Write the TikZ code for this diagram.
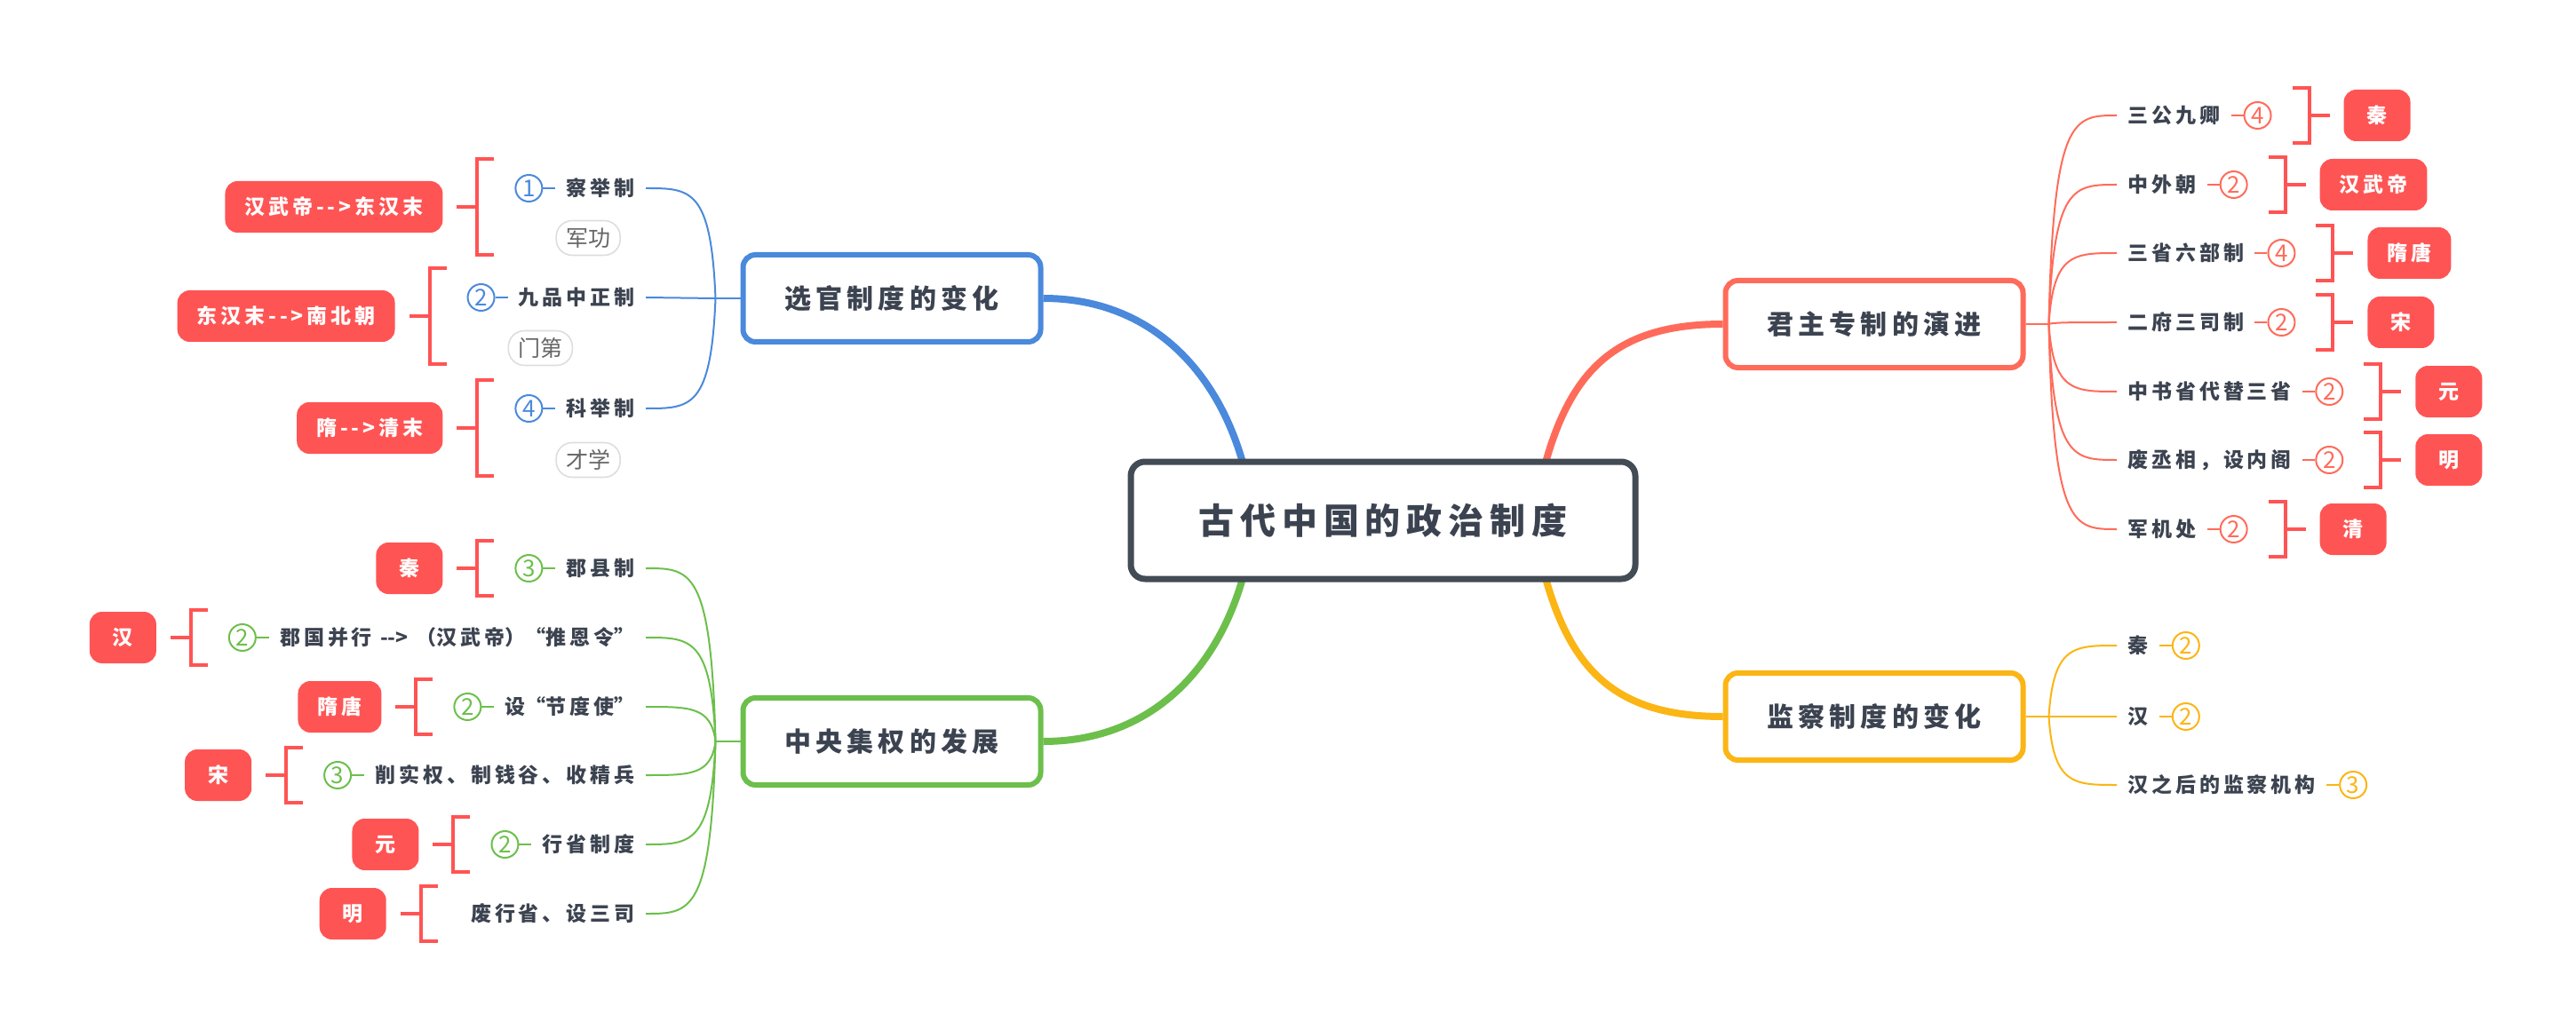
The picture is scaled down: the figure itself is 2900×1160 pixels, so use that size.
\documentclass[tikz,border=0pt]{standalone}
\usepackage{fontspec}
\newfontfamily\cjk[LetterSpace=17]{Noto Sans CJK SC}
\newfontfamily\cjkplain{Noto Sans CJK SC}
\usetikzlibrary{positioning,calc,backgrounds}

\definecolor{ink}{HTML}{3C4350}
\definecolor{rootc}{HTML}{434B55}
\definecolor{bluec}{HTML}{4A89DC}
\definecolor{greenc}{HTML}{6CBF4B}
\definecolor{redc}{HTML}{FF6B5A}
\definecolor{yellowc}{HTML}{FBB514}
\definecolor{erac}{HTML}{FF5454}
\definecolor{hintc}{HTML}{DDDDDD}
\definecolor{hinttext}{HTML}{666666}

\begin{document}
\begin{tikzpicture}[x=0.5pt, y=-0.5pt,
	rootbox/.style={draw=rootc, line width=3.5pt, fill=white, rounded corners=8pt, minimum width=284pt, minimum height=66pt, text=ink, font=\cjk\bfseries\fontsize{20}{24}\selectfont},
	topicbox/.style={draw=#1, line width=3pt, fill=white, rounded corners=7pt, minimum width=167.5pt, minimum height=49pt, text=ink, font=\cjk\bfseries\fontsize{15}{18}\selectfont},
	leaf/.style={text=ink, inner sep=6pt, font=\cjk\bfseries\fontsize{11.5}{14}\selectfont},
	numc/.style={circle, draw=#1, text=#1, line width=1pt, minimum size=15pt, inner sep=0pt, font=\cjkplain\fontsize{13}{13}\selectfont},
	hintbox/.style={draw=hintc, line width=0.8pt, rounded corners=9pt, minimum height=19.5pt, inner xsep=5.5pt, text=hinttext, font=\cjkplain\fontsize{12.5}{14}\selectfont},
	erabox/.style={fill=erac, rounded corners=7pt, text=white, minimum width=37.5pt, minimum height=29pt, inner xsep=11pt, outer sep=8pt, font=\cjk\bfseries\fontsize{11.5}{14}\selectfont},
	bracket/.style={draw=erac, line width=2pt},
	limb/.style={draw=#1, line width=4pt},
	twig/.style={draw=#1, line width=1pt},
	]

	\useasboundingbox (0,0) rectangle (2900,1160);

	% centre and main topics
	\node[rootbox] (root) at (1557,586) {古代中国的政治制度};
	\node[topicbox=bluec] (sel) at (1004,336) {选官制度的变化};
	\node[topicbox=greenc] (cen) at (1004,835) {中央集权的发展};
	\node[topicbox=redc] (jun) at (2110,365) {君主专制的演进};
	\node[topicbox=yellowc] (jian) at (2110,807) {监察制度的变化};

	% fork points
	\coordinate (sf) at ($(sel.west)+(-28,0)$);
	\coordinate (cf) at ($(cen.west)+(-28,0)$);
	\coordinate (jf) at ($(jun.east)+(26,0)$);
	\coordinate (kf) at ($(jian.east)+(26,0)$);

	% ---- 选官制度的变化 ----
	\node[leaf, anchor=east] (xg1) at (727,212) {察举制};
	\node[numc=bluec, left=7pt of xg1] (xn1) {1};
	\node[hintbox, anchor=west] (xh1) at ($(xg1.west)+(0,56)$) {军功};
	\coordinate (xb1) at ($(xn1.west)+(-42,21)$);
	\node[erabox, left=11.5pt of xb1] (xe1) {汉武帝-{}-{}>东汉末};

	\node[leaf, anchor=east] (xg2) at (727,335) {九品中正制};
	\node[numc=bluec, left=7pt of xg2] (xn2) {2};
	\node[hintbox, anchor=west] (xh2) at ($(xg2.west)+(0,57)$) {门第};
	\coordinate (xb2) at ($(xn2.west)+(-42,21)$);
	\node[erabox, left=11.5pt of xb2] (xe2) {东汉末-{}-{}>南北朝};

	\node[leaf, anchor=east] (xg3) at (727,460) {科举制};
	\node[numc=bluec, left=7pt of xg3] (xn3) {4};
	\node[hintbox, anchor=west] (xh3) at ($(xg3.west)+(0,58)$) {才学};
	\coordinate (xb3) at ($(xn3.west)+(-42,22)$);
	\node[erabox, left=11.5pt of xb3] (xe3) {隋-{}-{}>清末};

	\draw[twig=bluec] (sel.west) -- (sf);
	\draw[twig=bluec] (sf) .. controls ($(sf|-xg1)+(-5,0)$) and ($(sf|-xg1)+(-28,0)$) .. (xg1.east);
	\draw[twig=bluec] (sf) -- (xg2.east);
	\draw[twig=bluec] (sf) .. controls ($(sf|-xg3)+(-5,0)$) and ($(sf|-xg3)+(-28,0)$) .. (xg3.east);
	\draw[twig=bluec] (xn1) -- (xg1);
	\draw[twig=bluec] (xn2) -- (xg2);
	\draw[twig=bluec] (xn3) -- (xg3);

	\draw[bracket] ($(xb1)+(19,-54)$) -- ++(-19,0) -- ++(0,108) -- ++(19,0);
	\draw[bracket] ($(xb2)+(19,-54)$) -- ++(-19,0) -- ++(0,108) -- ++(19,0);
	\draw[bracket] ($(xb3)+(19,-54)$) -- ++(-19,0) -- ++(0,108) -- ++(19,0);
	\draw[bracket] (xb1) -- (xe1);
	\draw[bracket] (xb2) -- (xe2);
	\draw[bracket] (xb3) -- (xe3);

	% ---- 中央集权的发展 ----
	\node[leaf, anchor=east] (zy1) at (727,640) {郡县制};
	\node[numc=greenc, left=7pt of zy1] (zn1) {3};
	\coordinate (zb1) at ($(zn1.west)+(-42,0)$);
	\node[erabox, left=11.5pt of zb1] (ze1) {秦};

	\node[leaf, anchor=east] (zy2) at (727,718) {郡国并行 {\cjkplain\bfseries -{}->} {\cjkplain（}汉武帝{\cjkplain）“}推恩令{\cjkplain”}};
	\node[numc=greenc, left=7pt of zy2] (zn2) {2};
	\coordinate (zb2) at ($(zn2.west)+(-42,0)$);
	\node[erabox, left=11.5pt of zb2] (ze2) {汉};

	\node[leaf, anchor=east] (zy3) at (727,796) {设{\cjkplain“}节度使{\cjkplain”}};
	\node[numc=greenc, left=7pt of zy3] (zn3) {2};
	\coordinate (zb3) at ($(zn3.west)+(-42,0)$);
	\node[erabox, left=11.5pt of zb3] (ze3) {隋唐};

	\node[leaf, anchor=east] (zy4) at (727,873) {削实权、制钱谷、收精兵};
	\node[numc=greenc, left=7pt of zy4] (zn4) {3};
	\coordinate (zb4) at ($(zn4.west)+(-42,0)$);
	\node[erabox, left=11.5pt of zb4] (ze4) {宋};

	\node[leaf, anchor=east] (zy5) at (727,951) {行省制度};
	\node[numc=greenc, left=7pt of zy5] (zn5) {2};
	\coordinate (zb5) at ($(zn5.west)+(-42,0)$);
	\node[erabox, left=11.5pt of zb5] (ze5) {元};

	\node[leaf, anchor=east] (zy6) at (727,1029) {废行省、设三司};
	\coordinate (zb6) at ($(zy6.west)+(-44,0)$); % no number here
	\node[erabox, left=11.5pt of zb6] (ze6) {明};

	\draw[twig=greenc] (cen.west) -- (cf);
	\draw[twig=greenc] (cf) .. controls ($(cf|-zy1)+(-5,0)$) and ($(cf|-zy1)+(-28,0)$) .. (zy1.east);
	\draw[twig=greenc] (cf) .. controls ($(cf|-zy2)+(-5,0)$) and ($(cf|-zy2)+(-28,0)$) .. (zy2.east);
	\draw[twig=greenc] (cf) .. controls ($(cf|-zy3)+(-5,0)$) and ($(cf|-zy3)+(-28,0)$) .. (zy3.east);
	\draw[twig=greenc] (cf) .. controls ($(cf|-zy4)+(-5,0)$) and ($(cf|-zy4)+(-28,0)$) .. (zy4.east);
	\draw[twig=greenc] (cf) .. controls ($(cf|-zy5)+(-5,0)$) and ($(cf|-zy5)+(-28,0)$) .. (zy5.east);
	\draw[twig=greenc] (cf) .. controls ($(cf|-zy6)+(-5,0)$) and ($(cf|-zy6)+(-28,0)$) .. (zy6.east);
	\draw[twig=greenc] (zn1) -- (zy1);
	\draw[twig=greenc] (zn2) -- (zy2);
	\draw[twig=greenc] (zn3) -- (zy3);
	\draw[twig=greenc] (zn4) -- (zy4);
	\draw[twig=greenc] (zn5) -- (zy5);

	\draw[bracket] ($(zb1)+(19,-31)$) -- ++(-19,0) -- ++(0,62) -- ++(19,0);
	\draw[bracket] ($(zb2)+(19,-31)$) -- ++(-19,0) -- ++(0,62) -- ++(19,0);
	\draw[bracket] ($(zb3)+(19,-31)$) -- ++(-19,0) -- ++(0,62) -- ++(19,0);
	\draw[bracket] ($(zb4)+(19,-31)$) -- ++(-19,0) -- ++(0,62) -- ++(19,0);
	\draw[bracket] ($(zb5)+(19,-31)$) -- ++(-19,0) -- ++(0,62) -- ++(19,0);
	\draw[bracket] ($(zb6)+(19,-31)$) -- ++(-19,0) -- ++(0,62) -- ++(19,0);
	\draw[bracket] (zb1) -- (ze1);
	\draw[bracket] (zb2) -- (ze2);
	\draw[bracket] (zb3) -- (ze3);
	\draw[bracket] (zb4) -- (ze4);
	\draw[bracket] (zb5) -- (ze5);
	\draw[bracket] (zb6) -- (ze6);

	% ---- 君主专制的演进 ----
	\node[leaf, anchor=west] (jz1) at (2383,130) {三公九卿};
	\node[numc=redc, right=7pt of jz1] (jn1) {4};
	\coordinate (jb1) at ($(jn1.east)+(42,0)$);
	\node[erabox, right=11.5pt of jb1] (je1) {秦};

	\node[leaf, anchor=west] (jz2) at (2383,208) {中外朝};
	\node[numc=redc, right=7pt of jz2] (jn2) {2};
	\coordinate (jb2) at ($(jn2.east)+(42,0)$);
	\node[erabox, right=11.5pt of jb2] (je2) {汉武帝};

	\node[leaf, anchor=west] (jz3) at (2383,285) {三省六部制};
	\node[numc=redc, right=7pt of jz3] (jn3) {4};
	\coordinate (jb3) at ($(jn3.east)+(42,0)$);
	\node[erabox, right=11.5pt of jb3] (je3) {隋唐};

	\node[leaf, anchor=west] (jz4) at (2383,363) {二府三司制};
	\node[numc=redc, right=7pt of jz4] (jn4) {2};
	\coordinate (jb4) at ($(jn4.east)+(42,0)$);
	\node[erabox, right=11.5pt of jb4] (je4) {宋};

	\node[leaf, anchor=west] (jz5) at (2383,441) {中书省代替三省};
	\node[numc=redc, right=7pt of jz5] (jn5) {2};
	\coordinate (jb5) at ($(jn5.east)+(42,0)$);
	\node[erabox, right=11.5pt of jb5] (je5) {元};

	\node[leaf, anchor=west] (jz6) at (2383,518) {废丞相，设内阁};
	\node[numc=redc, right=7pt of jz6] (jn6) {2};
	\coordinate (jb6) at ($(jn6.east)+(42,0)$);
	\node[erabox, right=11.5pt of jb6] (je6) {明};

	\node[leaf, anchor=west] (jz7) at (2383,596) {军机处};
	\node[numc=redc, right=7pt of jz7] (jn7) {2};
	\coordinate (jb7) at ($(jn7.east)+(42,0)$);
	\node[erabox, right=11.5pt of jb7] (je7) {清};

	\draw[twig=redc] (jun.east) -- (jf);
	\draw[twig=redc] (jf) .. controls ($(jf|-jz1)+(5,0)$) and ($(jf|-jz1)+(28,0)$) .. (jz1.west);
	\draw[twig=redc] (jf) .. controls ($(jf|-jz2)+(5,0)$) and ($(jf|-jz2)+(28,0)$) .. (jz2.west);
	\draw[twig=redc] (jf) .. controls ($(jf|-jz3)+(5,0)$) and ($(jf|-jz3)+(28,0)$) .. (jz3.west);
	\draw[twig=redc] (jf) .. controls ($(jf|-jz4)+(5,0)$) and ($(jf|-jz4)+(28,0)$) .. (jz4.west);
	\draw[twig=redc] (jf) .. controls ($(jf|-jz5)+(5,0)$) and ($(jf|-jz5)+(28,0)$) .. (jz5.west);
	\draw[twig=redc] (jf) .. controls ($(jf|-jz6)+(5,0)$) and ($(jf|-jz6)+(28,0)$) .. (jz6.west);
	\draw[twig=redc] (jf) .. controls ($(jf|-jz7)+(5,0)$) and ($(jf|-jz7)+(28,0)$) .. (jz7.west);
	\draw[twig=redc] (jn1) -- (jz1);
	\draw[twig=redc] (jn2) -- (jz2);
	\draw[twig=redc] (jn3) -- (jz3);
	\draw[twig=redc] (jn4) -- (jz4);
	\draw[twig=redc] (jn5) -- (jz5);
	\draw[twig=redc] (jn6) -- (jz6);
	\draw[twig=redc] (jn7) -- (jz7);

	\draw[bracket] ($(jb1)+(-19,-31)$) -- ++(19,0) -- ++(0,62) -- ++(-19,0);
	\draw[bracket] ($(jb2)+(-19,-31)$) -- ++(19,0) -- ++(0,62) -- ++(-19,0);
	\draw[bracket] ($(jb3)+(-19,-31)$) -- ++(19,0) -- ++(0,62) -- ++(-19,0);
	\draw[bracket] ($(jb4)+(-19,-31)$) -- ++(19,0) -- ++(0,62) -- ++(-19,0);
	\draw[bracket] ($(jb5)+(-19,-31)$) -- ++(19,0) -- ++(0,62) -- ++(-19,0);
	\draw[bracket] ($(jb6)+(-19,-31)$) -- ++(19,0) -- ++(0,62) -- ++(-19,0);
	\draw[bracket] ($(jb7)+(-19,-31)$) -- ++(19,0) -- ++(0,62) -- ++(-19,0);
	\draw[bracket] (jb1) -- (je1);
	\draw[bracket] (jb2) -- (je2);
	\draw[bracket] (jb3) -- (je3);
	\draw[bracket] (jb4) -- (je4);
	\draw[bracket] (jb5) -- (je5);
	\draw[bracket] (jb6) -- (je6);
	\draw[bracket] (jb7) -- (je7);

	% ---- 监察制度的变化 ----
	\node[leaf, anchor=west] (kc1) at (2383,727) {秦};
	\node[numc=yellowc, right=7pt of kc1] (kn1) {2};
	\node[leaf, anchor=west] (kc2) at (2383,807) {汉};
	\node[numc=yellowc, right=7pt of kc2] (kn2) {2};
	\node[leaf, anchor=west] (kc3) at (2383,884) {汉之后的监察机构};
	\node[numc=yellowc, right=7pt of kc3] (kn3) {3};

	\draw[twig=yellowc] (jian.east) -- (kf);
	\draw[twig=yellowc] (kf) .. controls ($(kf|-kc1)+(5,0)$) and ($(kf|-kc1)+(28,0)$) .. (kc1.west);
	\draw[twig=yellowc] (kf) -- (kc2.west);
	\draw[twig=yellowc] (kf) .. controls ($(kf|-kc3)+(5,0)$) and ($(kf|-kc3)+(28,0)$) .. (kc3.west);
	\draw[twig=yellowc] (kn1) -- (kc1);
	\draw[twig=yellowc] (kn2) -- (kc2);
	\draw[twig=yellowc] (kn3) -- (kc3);

	% thick limbs, under the boxes
	\begin{scope}[on background layer]
		\draw[limb=bluec] (sel.east) .. controls +(118,0) and +(-30,-110) .. ($(root.north)+(-157,8)$);
		\draw[limb=greenc] (cen.east) .. controls +(118,0) and +(-30,110) .. ($(root.south)+(-157,-8)$);
		\draw[limb=redc] (jun.west) .. controls +(-118,0) and +(30,-110) .. ($(root.north)+(182,8)$);
		\draw[limb=yellowc] (jian.west) .. controls +(-118,0) and +(30,110) .. ($(root.south)+(182,-8)$);
	\end{scope}

\end{tikzpicture}
\end{document}
